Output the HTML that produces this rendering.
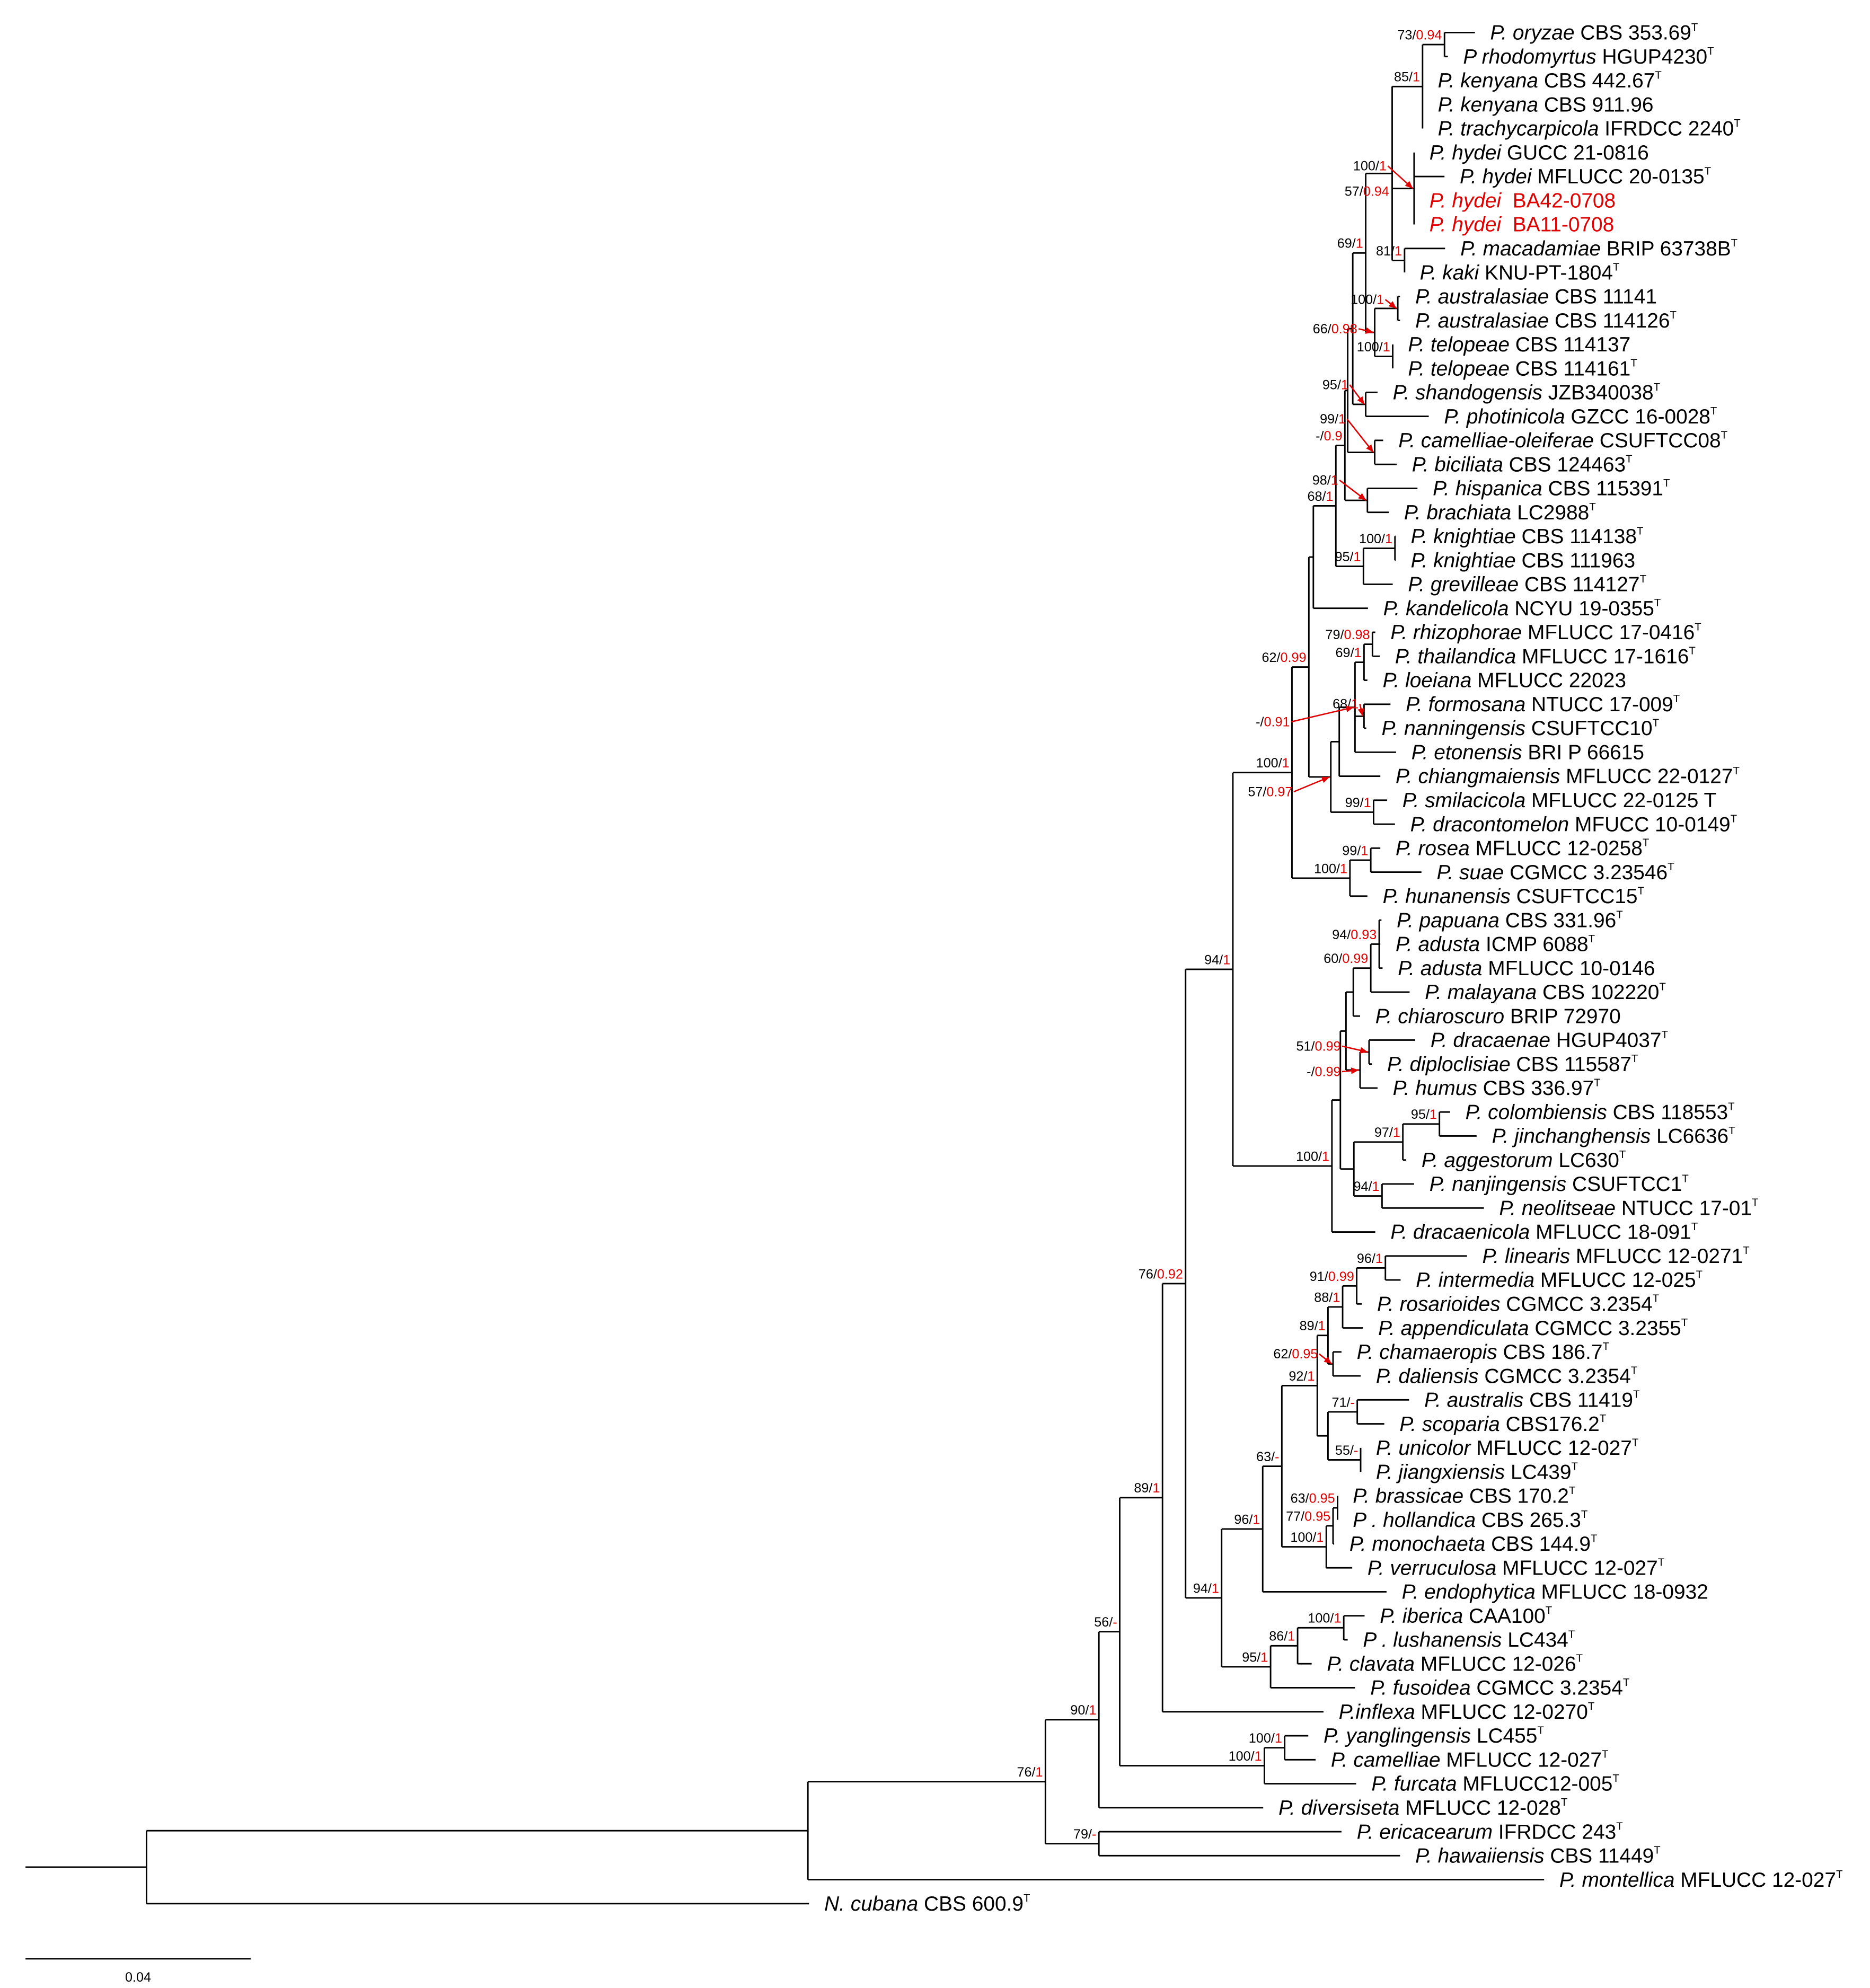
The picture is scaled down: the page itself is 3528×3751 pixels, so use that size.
<!DOCTYPE html>
<html><head><meta charset="utf-8"><title>Phylogenetic tree</title>
<style>
html,body{margin:0;padding:0;background:#fff;}
svg{display:block;}
text{font-family:"Liberation Sans",Arial,sans-serif;}
</style></head>
<body>
<svg id="tree" xmlns="http://www.w3.org/2000/svg" width="3528" height="3751" viewBox="0 0 1470 1563">
<rect x="0" y="0" width="1470" height="1563" fill="#fff"/>
<g id="branches"></g>
<g id="supports"></g>
<g id="leaves"></g>
<g id="scalebar"></g>
</svg>
<script>
// ---- data ----
const leafGenus = ["P.","P","P.","P.","P.","P.","P.","P.","P.","P.","P.","P.","P.","P.","P.","P.","P.","P.","P.","P.","P.","P.","P.","P.","P.","P.","P.","P.","P.","P.","P.","P.","P.","P.","P.","P.","P.","P.","P.","P.","P.","P.","P.","P.","P.","P.","P.","P.","P.","P.","P.","P.","P.","P.","P.","P.","P.","P.","P.","P.","P.","P.","P .","P.","P.","P.","P.","P .","P.","P.","P.","P.","P.","P.","P.","P.","P.","P.","N."];
const leafEpithet = ["oryzae","rhodomyrtus","kenyana","kenyana","trachycarpicola","hydei","hydei","hydei","hydei","macadamiae","kaki","australasiae","australasiae","telopeae","telopeae","shandogensis","photinicola","camelliae-oleiferae","biciliata","hispanica","brachiata","knightiae","knightiae","grevilleae","kandelicola","rhizophorae","thailandica","loeiana","formosana","nanningensis","etonensis","chiangmaiensis","smilacicola","dracontomelon","rosea","suae","hunanensis","papuana","adusta","adusta","malayana","chiaroscuro","dracaenae","diploclisiae","humus","colombiensis","jinchanghensis","aggestorum","nanjingensis","neolitseae","dracaenicola","linearis","intermedia","rosarioides","appendiculata","chamaeropis","daliensis","australis","scoparia","unicolor","jiangxiensis","brassicae","hollandica","monochaeta","verruculosa","endophytica","iberica","lushanensis","clavata","fusoidea","inflexa","yanglingensis","camelliae","furcata","diversiseta","ericacearum","hawaiiensis","montellica","cubana"];
const leafStrain = ["CBS 353.69","HGUP4230","CBS 442.67","CBS 911.96","IFRDCC 2240","GUCC 21-0816","MFLUCC 20-0135","BA42-0708","BA11-0708","BRIP 63738B","KNU-PT-1804","CBS 11141","CBS 114126","CBS 114137","CBS 114161","JZB340038","GZCC 16-0028","CSUFTCC08","CBS 124463","CBS 115391","LC2988","CBS 114138","CBS 111963","CBS 114127","NCYU 19-0355","MFLUCC 17-0416","MFLUCC 17-1616","MFLUCC 22023","NTUCC 17-009","CSUFTCC10","BRI P 66615","MFLUCC 22-0127","MFLUCC 22-0125 T","MFUCC 10-0149","MFLUCC 12-0258","CGMCC 3.23546","CSUFTCC15","CBS 331.96","ICMP 6088","MFLUCC 10-0146","CBS 102220","BRIP 72970","HGUP4037","CBS 115587","CBS 336.97","CBS 118553","LC6636","LC630","CSUFTCC1","NTUCC 17-01","MFLUCC 18-091","MFLUCC 12-0271","MFLUCC 12-025","CGMCC 3.2354","CGMCC 3.2355","CBS 186.7","CGMCC 3.2354","CBS 11419","CBS176.2","MFLUCC 12-027","LC439","CBS 170.2","CBS 265.3","CBS 144.9","MFLUCC 12-027","MFLUCC 18-0932","CAA100","LC434","MFLUCC 12-026","CGMCC 3.2354","MFLUCC 12-0270","LC455","MFLUCC 12-027","MFLUCC12-005","MFLUCC 12-028","IFRDCC 243","CBS 11449","MFLUCC 12-027","CBS 600.9"];
const leafType = [1,1,1,0,1,0,1,0,0,1,1,0,1,0,1,1,1,1,1,1,1,1,0,1,1,1,1,0,1,1,0,1,0,1,1,1,1,1,1,0,1,0,1,1,1,1,1,1,1,1,1,1,1,1,1,1,1,1,1,1,1,1,1,1,1,0,1,1,1,1,1,1,1,1,1,1,1,1,1];
const leafRed = [7,8];
// tip depths (substitutions/site x 1000)
const leafDepth = [257.5,252.7,248.2,248.2,248.2,246.7,252.1,246.7,246.7,252.2,245.0,244.2,244.2,242.9,242.9,240.2,249.3,241.2,243.6,247.3,242.2,243.4,243.4,242.9,238.5,239.8,240.6,238.4,242.5,238.2,243.5,240.7,241.9,243.3,240.7,248.0,238.4,240.9,240.7,241.1,245.9,237.1,246.9,239.2,240.2,253.1,257.8,245.3,246.7,259.1,239.8,256.1,244.3,237.4,237.6,233.8,237.2,245.8,241.4,237.2,237.2,233.1,233.1,232.5,235.7,241.8,237.9,234.9,228.5,236.2,230.6,227.9,229.2,236.4,219.9,233.8,244.2,269.8,139.2];
// internal nodes: [depth, support, children...]
const cladeTop = [242.8,"57/0.94",[248.2,"85/1",[252.1,"73/0.94",0,1],2,3,4],[246.7,"100/1",5,6,7,8],[245.0,"81/1",9,10]];
const cladeD = [239.7,"66/0.98",[243.8,"100/1",11,12],[242.9,"100/1",13,14]];
const cladeJ = [232.8,"68/1",[234.4,"-/0.9",[234.9,"",[235.8,"",[238.1,"69/1",cladeTop,cladeD],[238.1,"95/1",15,16]],[239.7,"99/1",17,18]],[238.4,"98/1",19,20]],[237.7,"95/1",[243.3,"100/1",21,22],23]];
const cladeN = [231.9,"57/0.97",[233.4,"",[236.2,"-/0.91",[237.8,"69/1",[239.3,"79/0.98",25,26],27],[237.8,"68/1",28,29],30],31],[239.5,"99/1",32,33]];
const cladeP = [225.0,"100/1",[228.0,"62/0.99",[228.8,"",cladeJ,24],cladeN],[235.3,"100/1",[239.0,"99/1",34,35],36]];
const cladeR = [232.1,"100/1",[233.6,"",[234.6,"",[235.9,"",[239.0,"60/0.99",[240.5,"94/0.93",37,38,39],40],41],[237.1,"-/0.99",[238.7,"51/0.99",42,43],44]],[236.0,"",[244.7,"97/1",[251.2,"95/1",45,46],47],[241.0,"94/1",48,49]]],50];
const clade92 = [229.5,"92/1",[231.4,"89/1",[234.0,"88/1",[236.5,"91/0.99",[241.6,"96/1",51,52],53],54],[232.3,"62/0.95",55,56]],[231.4,"",[236.6,"71/-",57,58],[237.2,"55/-",59,60]]];
const clade94c = [212.5,"94/1",[219.8,"96/1",[223.2,"63/-",clade92,[231.1,"100/1",[232.3,"77/0.95",[233.1,"63/0.95",61,62],63],64]],65],[221.2,"95/1",[226.0,"86/1",[234.2,"100/1",66,67],68],69]];
const cladeRoot = [21.5,"",[139.0,"",[181.2,"76/1",[190.7,"90/1",[194.4,"56/-",[202.0,"89/1",[206.1,"76/0.92",[214.5,"94/1",cladeP,cladeR],clade94c],70],[220.1,"100/1",[223.7,"100/1",71,72],73]],74],[190.7,"79/-",75,76]],77],78];
const scaleValue = [40];
const scaleLabel = ["0.04"];

// ---- layout ----
const X0 = 20, PXPERUNIT = 4.425, Y0 = 25.6, ROW = 18.86, LABELGAP = 12;
const xScale = d => X0 + d * PXPERUNIT;
const yRow = i => Y0 + i * ROW;
// support label overrides: [labelRightX, labelY, arrow?]
const arrowLabels = {
 "246.7|100/1":[1090,134,1],"243.8|100/1":[1088,239,1],"239.7|66/0.98":[1067,262,1],
 "238.1|95/1":[1060,306,1],"239.7|99/1":[1058,333,1],"238.4|98/1":[1052,381,1],
 "237.8|68/1":[1068,557,1],"236.2|-/0.91":[1014,571,1],"231.9|57/0.97":[1016,626,1],
 "238.7|51/0.99":[1054,826,1],"237.1|-/0.99":[1054,846,1],"232.3|62/0.95":[1036,1068,1],
 "242.8|57/0.94":[1092,154,0]
};
const NS = "http://www.w3.org/2000/svg";
const gB = document.getElementById("branches");
const gS = document.getElementById("supports");
const gL = document.getElementById("leaves");
const gSc = document.getElementById("scalebar");
function line(g,x1,y1,x2,y2,col,w){
 const l=document.createElementNS(NS,"line");
 l.setAttribute("x1",x1);l.setAttribute("y1",y1);l.setAttribute("x2",x2);l.setAttribute("y2",y2);
 l.setAttribute("stroke",col||"#000");l.setAttribute("stroke-width",w||1.2);
 
 
 g.appendChild(l);return l;
}
function leafY(i){return yRow(i);}
function layout(node){
 if(typeof node==="number"){return {x:xScale(leafDepth[node]),y:leafY(node)};}
 const kids=node.slice(2).map(layout);
 const x=xScale(node[0]);
 const y=(kids[0].y+kids[kids.length-1].y)/2;
 line(gB,x,kids[0].y,x,kids[kids.length-1].y);
 kids.forEach(k=>{line(gB,x,k.y,k.x,k.y);});
 if(node[1]){drawSupport(node[1],x,y,node[0]);}
 return {x:x,y:y};
}
function drawSupport(s,x,y,d){
 const key=d+"|"+s;
 const parts=s.split("/");
 const t=document.createElementNS(NS,"text");
 
 
 t.setAttribute("font-size","10.5");
 t.setAttribute("text-anchor","end");
 let lx=x-2, ly=y-4;
 const ov=arrowLabels[key];
 if(ov){lx=ov[0];ly=ov[1];}
 t.setAttribute("x",lx);t.setAttribute("y",ly);
 const a=document.createElementNS(NS,"tspan");a.textContent=parts[0]+"/";a.setAttribute("fill","#000");
 const b=document.createElementNS(NS,"tspan");b.textContent=parts[1];b.setAttribute("fill","#e00000");
 t.appendChild(a);t.appendChild(b);gS.appendChild(t);
 if(ov&&ov[2]){
  const ar=line(gS,lx+1,ly-3.5,x-1,y,"#e00000",1.1);
  
  const ang=Math.atan2(y-(ly-3.5),(x-1)-(lx+1));
  const p=document.createElementNS(NS,"polygon");
  const hx=x-1,hy=y,L=6,W=2.6;
  const bx=hx-L*Math.cos(ang),by=hy-L*Math.sin(ang);
  p.setAttribute("points",hx+","+hy+" "+(bx-W*Math.sin(ang))+","+(by+W*Math.cos(ang))+" "+(bx+W*Math.sin(ang))+","+(by-W*Math.cos(ang)));
  p.setAttribute("fill","#e00000");
  
  
  gS.appendChild(p);
 }
}
const rootPos=layout(cladeRoot);
line(gB,xScale(0),rootPos.y,rootPos.x,rootPos.y);
// leaf labels
for(let i=0;i<leafEpithet.length;i++){
 const red=leafRed.indexOf(i)>=0;
 const t=document.createElementNS(NS,"text");
 
 
 t.setAttribute("x",xScale(leafDepth[i])+LABELGAP);
 t.setAttribute("y",leafY(i)+5.5);
 t.setAttribute("font-size","16.2");
 t.setAttribute("fill",red?"#e00000":"#000");
 const it=document.createElementNS(NS,"tspan");
 it.setAttribute("font-style","italic");
 const gen=leafGenus[i];
 it.textContent=(gen==="P."&&leafEpithet[i]==="inflexa")?"P."+leafEpithet[i]:gen+" "+leafEpithet[i];
 t.appendChild(it);
 const st=document.createElementNS(NS,"tspan");
 st.textContent=(red?"\u00a0\u00a0":" ")+leafStrain[i];
 t.appendChild(st);
 if(leafType[i]){
  const sup=document.createElementNS(NS,"tspan");
  sup.setAttribute("font-size","8.5");sup.setAttribute("dy","-7");
  sup.textContent="T";t.appendChild(sup);
 }
 gL.appendChild(t);
}
// scale bar
const sb=line(gSc,xScale(0),1540,xScale(scaleValue[0]),1540);

const sl=document.createElementNS(NS,"text");


sl.setAttribute("x",(xScale(0)+xScale(scaleValue[0]))/2);
sl.setAttribute("y",1558);sl.setAttribute("font-size","10.5");sl.setAttribute("text-anchor","middle");
sl.textContent=scaleLabel[0];gSc.appendChild(sl);
</script>
</body></html>
